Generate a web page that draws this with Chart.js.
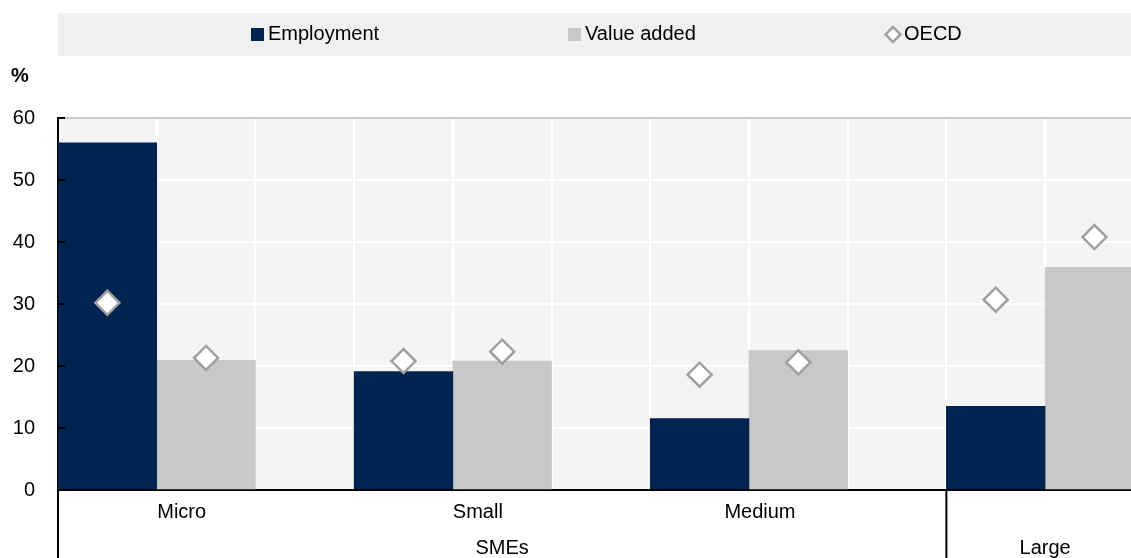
<!DOCTYPE html>
<html>
<head>
<meta charset="utf-8">
<script src="https://cdn.jsdelivr.net/npm/chart.js@4.4.0/dist/chart.umd.min.js"></script>
<style>
  html, body { margin: 0; padding: 0; overflow: hidden; background: #fff; }
  #wrap { width: 1131px; height: 558px; overflow: hidden; }
</style>
</head>
<body>
<div id="wrap"><canvas id="sizeChart" width="1257" height="558"></canvas></div>
<script>
// enterprise size classes and their higher-level group
const sizes = ['Micro', 'Small', 'Medium', 'Large'];
const groups = ['SMEs', 'SMEs', 'SMEs', 'Large'];

// shares, %
const employment = [56.0, 19.1, 11.5, 13.5];
const valueAdded = [20.9, 20.8, 22.5, 35.9];
const oecdEmployment = [30.2, 20.8, 18.6, 30.7];
const oecdValueAdded = [21.3, 22.3, 20.6, 40.8];

const yTicks = [0, 10, 20, 30, 40, 50, 60];

// each size class gets three slots: employment bar, value added bar, gap
const slots = [], empSlots = [], vaSlots = [], oecdSlots = [];
sizes.forEach((s, i) => {
  slots.push(s + ' employment', s + ' value added', s + ' gap');
  empSlots.push(employment[i], null, null);
  vaSlots.push(null, valueAdded[i], null);
  oecdSlots.push(oecdEmployment[i], oecdValueAdded[i], null);
});

const FONT = '"Liberation Sans", Arial, sans-serif';
const colors = { emp: '#002350', va: '#c8c8c8', oecd: '#a0a0a0', plot: '#f4f4f4', legend: '#f0f0f0' };

const decor = {
  id: 'decor',
  beforeDraw(chart) {
    const { ctx, chartArea: a, width } = chart;
    ctx.save();
    ctx.fillStyle = colors.plot;
    ctx.fillRect(a.left, a.top, a.right - a.left, a.bottom - a.top);

    // legend strip
    ctx.fillStyle = colors.legend;
    ctx.fillRect(58, 13, width - 58, 43);
    const lx = [251, 568, 885];
    const cy = 34.5;
    ctx.font = '20px ' + FONT;
    ctx.textBaseline = 'middle';
    chart.data.datasets.forEach((ds, i) => {
      const x = lx[i];
      if (ds.type === 'line') {
        ctx.beginPath();
        ctx.moveTo(x + 8, cy - 7.5); ctx.lineTo(x + 15.5, cy); ctx.lineTo(x + 8, cy + 7.5); ctx.lineTo(x + 0.5, cy);
        ctx.closePath();
        ctx.fillStyle = '#fff'; ctx.fill();
        ctx.lineWidth = 2.5; ctx.strokeStyle = colors.oecd; ctx.stroke();
        ctx.fillStyle = '#000';
        ctx.fillText(ds.label, x + 19, cy);
      } else {
        ctx.fillStyle = ds.backgroundColor;
        ctx.fillRect(x, cy - 6.5, 13, 13);
        ctx.fillStyle = '#000';
        ctx.fillText(ds.label, x + 17, cy);
      }
    });

    ctx.font = 'bold 20px ' + FONT;
    ctx.fillText('%', 11, 76);
    ctx.restore();
  },
  afterDraw(chart) {
    const { ctx, chartArea: a, scales: { x, y }, height } = chart;
    const slotW = x.getPixelForValue(1) - x.getPixelForValue(0);
    ctx.save();
    ctx.strokeStyle = '#000';
    ctx.lineWidth = 2;
    // inward tick marks
    yTicks.forEach(v => {
      const py = Math.round(y.getPixelForValue(v));
      ctx.beginPath(); ctx.moveTo(a.left, py); ctx.lineTo(a.left + 7, py); ctx.stroke();
    });
    // group separators below the axis
    const sep = [a.left, x.getPixelForValue(8) + slotW / 2];
    sep.forEach(px => {
      ctx.beginPath(); ctx.moveTo(px, a.bottom); ctx.lineTo(px, height); ctx.stroke();
    });

    ctx.fillStyle = '#000';
    ctx.font = '20px ' + FONT;
    ctx.textAlign = 'center';
    ctx.textBaseline = 'middle';
    const nudge = [25, 25, 11];
    sizes.forEach((s, i) => {
      if (groups[i] === s) return;
      const cx = (x.getPixelForValue(3 * i) + x.getPixelForValue(3 * i + 1)) / 2 + nudge[i];
      ctx.fillText(s, cx, 512);
    });
    // second row: groups
    [...new Set(groups)].forEach(g => {
      const idx = groups.map((v, i) => v === g ? i : -1).filter(i => i >= 0);
      const first = 3 * idx[0];
      const last = g === groups[groups.length - 1] ? 3 * idx[idx.length - 1] + 1 : 3 * idx[idx.length - 1] + 2;
      const cx = (x.getPixelForValue(first) + x.getPixelForValue(last)) / 2;
      ctx.fillText(g, cx, 548);
    });
    ctx.restore();
  }
};

new Chart(document.getElementById('sizeChart'), {
  type: 'bar',
  data: {
    labels: slots,
    datasets: [
      { label: 'Employment', data: empSlots, backgroundColor: colors.emp, grouped: false, barPercentage: 1, categoryPercentage: 1, order: 2 },
      { label: 'Value added', data: vaSlots, backgroundColor: colors.va, grouped: false, barPercentage: 1, categoryPercentage: 1, order: 2 },
      { label: 'OECD', type: 'line', data: oecdSlots, showLine: false, pointStyle: 'rectRot', pointRadius: 12,
        pointBorderWidth: 2.5, pointBorderColor: colors.oecd, pointBackgroundColor: '#fff', order: 0 }
    ]
  },
  options: {
    responsive: false,
    animation: false,
    devicePixelRatio: 1,
    layout: { padding: { top: 118, left: 0, right: 0, bottom: 0 } },
    plugins: { legend: { display: false }, tooltip: { enabled: false } },
    scales: {
      x: {
        offset: true,
        grid: { offset: true, color: '#ffffff', lineWidth: 2, drawTicks: false },
        border: { color: '#000', width: 2 },
        ticks: { display: false },
        afterFit: s => { s.height = 68; }
      },
      y: {
        min: 0, max: 60,
        afterBuildTicks: s => { s.ticks = yTicks.map(v => ({ value: v })); },
        grid: { color: c => c.tick && c.tick.value === 60 ? '#c8c8c8' : '#ffffff', lineWidth: 2, drawTicks: false },
        border: { color: '#000', width: 2 },
        ticks: { color: '#000', padding: 23, font: { family: FONT, size: 20 } },
        afterFit: s => { s.width = 58; }
      }
    }
  },
  plugins: [decor]
});
</script>
</body>
</html>
